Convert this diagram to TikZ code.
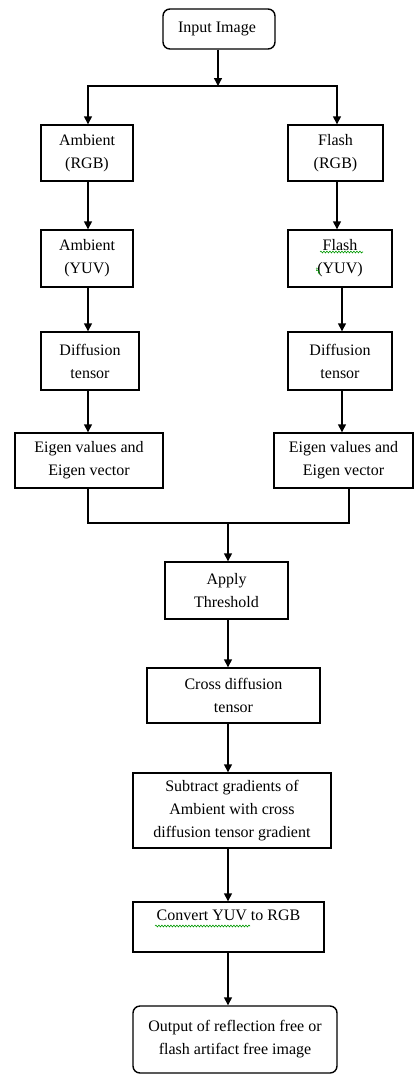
\documentclass[tikz,border=0pt]{standalone}
\usepackage{fontspec}
\setmainfont{Liberation Serif}
\usetikzlibrary{arrows.meta,decorations.pathmorphing}
\begin{document}
\begin{tikzpicture}[x=1pt,y=-1pt,
  box/.style={draw,line width=1.4pt,align=center,inner sep=0pt,
    font=\fontsize{16}{23}\selectfont},
  rbox/.style={box,rounded corners=7pt},
  arr/.style={line width=1.4pt,-{Triangle[width=8pt,length=8pt]}},
  ln/.style={line width=1.4pt},
  squig/.style={draw=green!60!black,line width=0.6pt,
    decorate,decoration={snake,segment length=3pt,amplitude=0.9pt}}]
\useasboundingbox (0,0) rectangle (414,1076);
\node[rbox,minimum width=112pt,minimum height=40pt] (in) at (219,29) {Input Image\hspace*{4pt}};
\node[box,minimum width=92pt,minimum height=56pt] (aRGB) at (87,153) {Ambient\\(RGB)};
\node[box,minimum width=95pt,minimum height=56pt] (fRGB) at (335.5,153) {Flash\\(RGB)};
\node[box,minimum width=92pt,minimum height=57pt] (aYUV) at (87,258.5) {Ambient\\(YUV)};
\node[box,minimum width=104pt,minimum height=57pt] (fYUV) at (340,258.5) {Flash\\(YUV)};
\node[box,minimum width=98pt,minimum height=58pt] (aDT) at (90,361) {Diffusion\\tensor};
\node[box,minimum width=104pt,minimum height=58pt] (fDT) at (340,361) {Diffusion\\tensor};
\node[box,minimum width=148pt,minimum height=55pt] (aEV) at (89,460.5) {Eigen values and\\Eigen vector};
\node[box,minimum width=139pt,minimum height=55pt] (fEV) at (343.5,460.5) {Eigen values and\\Eigen vector};
\node[box,minimum width=123pt,minimum height=57pt] (thr) at (226.5,590.5) {Apply\\Threshold};
\node[box,minimum width=173pt,minimum height=55pt] (cdt) at (233.5,695.5) {Cross diffusion\\tensor};
\node[box,minimum width=198pt,minimum height=75pt] (sub) at (232,810.5) {Subtract gradients of\\Ambient with cross\\diffusion tensor gradient};
\node[box,minimum width=191pt,minimum height=50pt] (cvt) at (228.5,927) {Convert YUV to RGB\\\mbox{}};
\node[rbox,minimum width=204pt,minimum height=67pt] (out) at (235,1039.5) {Output of reflection free or\\flash artifact free image};
% helper coordinates
\coordinate (spl) at (218,86);
\coordinate (colL) at (88,0);
\coordinate (colR) at (337,0);
\coordinate (colR2) at (342,0);
\coordinate (colR3) at (349,0);
\coordinate (mrg) at (228,523);
% connectors
\draw[arr] (in.south -| spl) -- (spl);
\draw[arr] (spl) -| (aRGB.north -| colL);
\draw[arr] (spl) -| (fRGB.north -| colR);
\draw[arr] (aRGB.south -| colL) -- (aYUV.north -| colL);
\draw[arr] (fRGB.south -| colR) -- (fYUV.north -| colR);
\draw[arr] (aYUV.south -| colL) -- (aDT.north -| colL);
\draw[arr] (fYUV.south -| colR2) -- (fDT.north -| colR2);
\draw[arr] (aDT.south -| colL) -- (aEV.north -| colL);
\draw[arr] (fDT.south -| colR2) -- (fEV.north -| colR2);
\draw[ln] (aEV.south -| colL) |- (mrg) -| (fEV.south -| colR3);
\draw[arr] (mrg) -- (thr.north -| mrg);
\draw[arr] (thr.south -| mrg) -- (cdt.north -| mrg);
\draw[arr] (cdt.south -| mrg) -- (sub.north -| mrg);
\draw[arr] (sub.south -| mrg) -- (cvt.north -| mrg);
\draw[arr] (cvt.south -| mrg) -- (out.north -| mrg);
% spell-check marks
\draw[squig] (320,252) -- (363,252);
\draw[squig] (316,268) -- (320,274);
\draw[squig] (155,926) -- (250,926);
\end{tikzpicture}
\end{document}
